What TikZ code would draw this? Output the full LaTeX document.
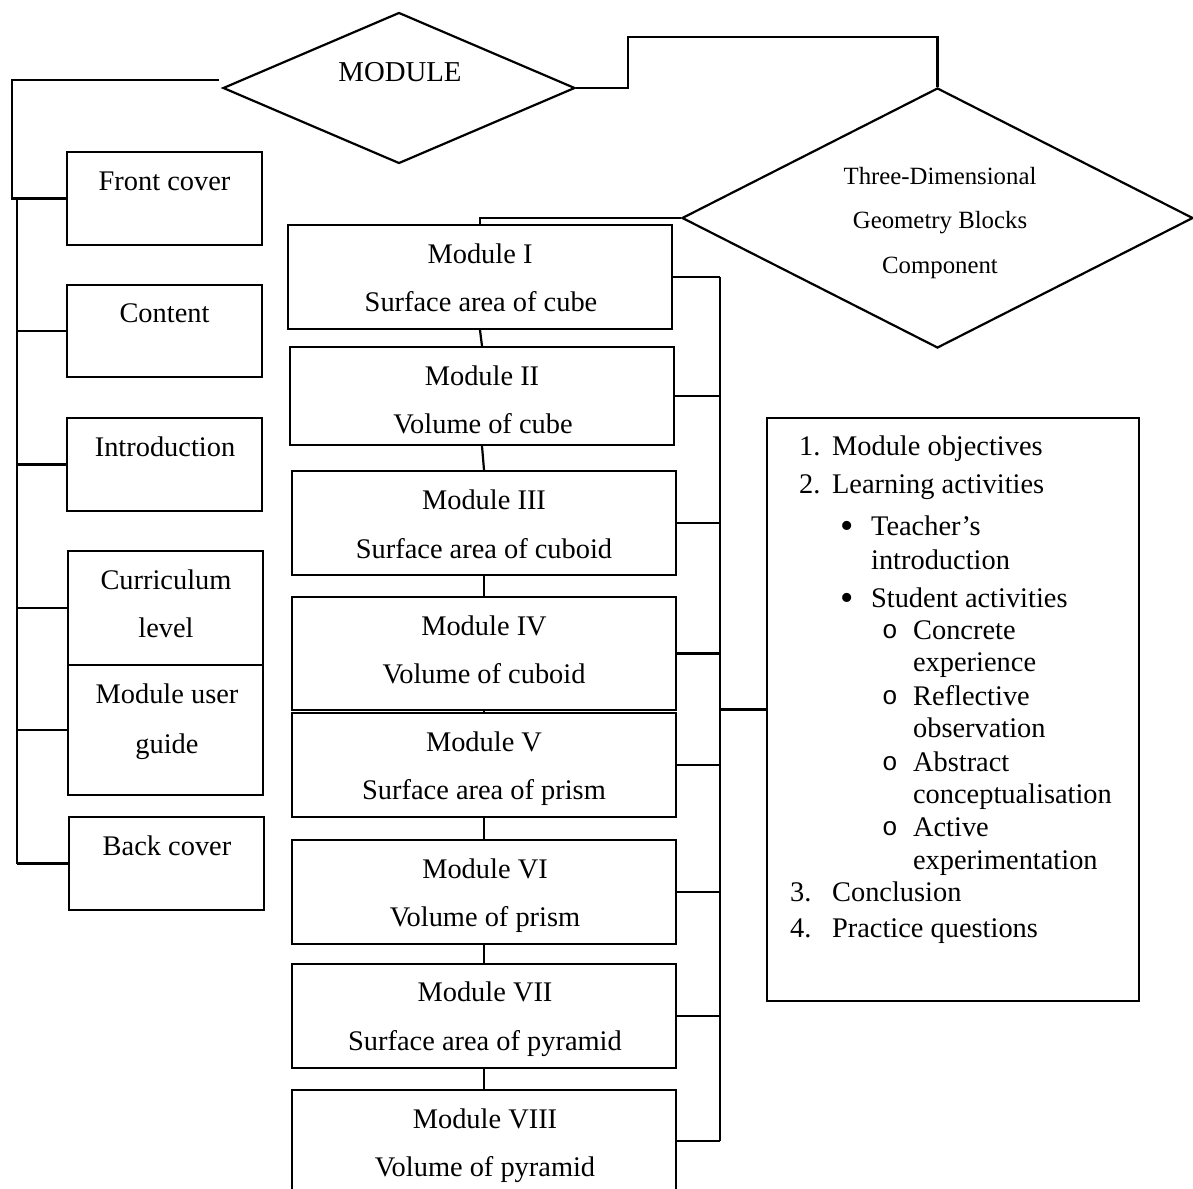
\documentclass[tikz,border=0pt]{standalone}
\usepackage{fontspec}
\setmainfont{Liberation Serif}
\newfontfamily\ringfont{Liberation Mono}
\usetikzlibrary{shapes.geometric}
\newcommand\mbx[5]{\node[box, minimum width={(#4-#2)*0.5pt}, minimum height={(#5-#3)*0.5pt}] (#1) at ({(#2+#4)/2},{(#3+#5)/2}) {};}
\begin{document}
\begin{tikzpicture}[x=0.5pt,y=-0.5pt, line width=1.1pt,
  box/.style={draw, rectangle, inner sep=0pt},
  dia/.style={draw, diamond, inner sep=0pt},
  tx/.style={inner sep=0pt, yshift=-2pt, text height=1.6ex, text depth=0.4ex, font=\fontsize{14.2}{17}\selectfont},
  stx/.style={inner sep=0pt, yshift=-2pt, text height=1.6ex, text depth=0.4ex, font=\fontsize{12.4}{15}\selectfont},
  lt/.style={tx, anchor=west},
  dot/.style={inner sep=0pt, yshift=-2.2pt, font=\fontsize{19}{20}\selectfont},
  ring/.style={inner sep=0pt, yshift=-2pt, text height=1.6ex, text depth=0.4ex, font=\ringfont\fontsize{13}{15}\selectfont},
  ]
\clip (0,0) rectangle (1193,1188);
\fill[white] (0,0) rectangle (1193,1188);

% diamonds
\node[dia, minimum width=176pt, minimum height=75.5pt] (md) at (399,88) {};
\node[dia, minimum width=255.5pt, minimum height=130pt] (td) at (937.5,218) {};
\node[tx, font=\fontsize{14.4}{17}\selectfont] (tmd) at (400,72) {MODULE};
\node[stx] (ttd1) at (940,175) {Three-Dimensional};
\node[stx] (ttd2) at (940,219) {Geometry Blocks};
\node[stx] (ttd3) at (940,264) {Component};

% left boxes
\mbx{fc}{67}{152}{262}{245}
\mbx{ct}{67}{285}{262}{377}
\mbx{intro}{67}{418}{262}{511}
\mbx{cl}{68}{551}{263}{665}
\mbx{ug}{68}{665}{263}{795}
\mbx{bc}{69}{817}{264}{910}
\node[tx] (tfc) at (164.5,181) {Front cover};
\node[tx] (tct) at (164.5,313) {Content};
\node[tx] (tin) at (165,447) {Introduction};
\node[tx] (tcl1) at (166,580) {Curriculum};
\node[tx] (tcl2) at (166,628) {level};
\node[tx] (tug1) at (167,694) {Module user};
\node[tx] (tug2) at (167,744) {guide};
\node[tx] (tbc) at (167,846) {Back cover};

% modules
\mbx{m1}{288}{225}{672}{329}
\mbx{m2}{290}{347}{674}{445}
\mbx{m3}{292}{471}{676}{575}
\mbx{m4}{292}{597}{676}{710}
\mbx{m5}{292}{713}{676}{817}
\mbx{m6}{292}{840}{676}{944}
\mbx{m7}{292}{964}{676}{1068}
\mbx{m8}{292}{1090}{676}{1192}
\node[tx] (a1) at (480,254) {Module I};
\node[tx] (b1) at (481,302) {Surface area of cube};
\node[tx] (a2) at (482,376) {Module II};
\node[tx] (b2) at (483,424) {Volume of cube};
\node[tx] (a3) at (484,500) {Module III};
\node[tx] (b3) at (484,549) {Surface area of cuboid};
\node[tx] (a4) at (484,626) {Module IV};
\node[tx] (b4) at (484,674) {Volume of cuboid};
\node[tx] (a5) at (484,742) {Module V};
\node[tx] (b5) at (484,790) {Surface area of prism};
\node[tx] (a6) at (485,869) {Module VI};
\node[tx] (b6) at (485,917) {Volume of prism};
\node[tx] (a7) at (485,992) {Module VII};
\node[tx] (b7) at (485,1041) {Surface area of pyramid};
\node[tx] (a8) at (485,1119) {Module VIII};
\node[tx] (b8) at (485,1167) {Volume of pyramid};

% list box
\mbx{lst}{767}{418}{1139}{1001}
\node[lt] (n1) at (798,446) {1.};
\node[lt] (l1) at (831,446) {Module objectives};
\node[lt] (n2) at (798,484) {2.};
\node[lt] (l2) at (831,484) {Learning activities};
\node[dot] (d1) at (847,526) {\textbullet};
\node[lt] (l3) at (870,526) {Teacher’s};
\node[lt] (l4) at (870,560) {introduction};
\node[dot] (d2) at (847,598) {\textbullet};
\node[lt] (l5) at (870,598) {Student activities};
\node[ring] (r1) at (890,629) {o};
\node[lt] (l6) at (912,630) {Concrete};
\node[lt] (l7) at (912,662) {experience};
\node[ring] (r2) at (890,695) {o};
\node[lt] (l8) at (912,696) {Reflective};
\node[lt] (l9) at (912,728) {observation};
\node[ring] (r3) at (890,761) {o};
\node[lt] (l10) at (912,762) {Abstract};
\node[lt] (l11) at (912,794) {conceptualisation};
\node[ring] (r4) at (890,826) {o};
\node[lt] (l12) at (912,827) {Active};
\node[lt] (l13) at (912,860) {experimentation};
\node[lt] (n3) at (789,892) {3.};
\node[lt] (l14) at (831,892) {Conclusion};
\node[lt] (n4) at (789,928) {4.};
\node[lt] (l15) at (831,928) {Practice questions};

% connectors
\coordinate (lc) at (12,0);
\coordinate (lb) at (17,0);
\coordinate (rb) at (720,0);
\draw ([shift={(-3,-8)}]md.west) -| (fc.west -| lc) -- (fc.west);
\draw (fc.west -| lb) -- (bc.west -| lb);
\foreach \n in {ct,intro,cl,ug,bc} \draw (\n.west -| lb) -- (\n.west);
\draw (md.east) -| (628,37) -| (td.north);
\draw (td.west) -| (m1.north);
\draw (m1.south) -- (m2.north);
\draw (m2.south) -- (m3.north);
\draw (m3.south) -- (m4.north);
\draw (m4.south) -- (m5.north);
\draw (m5.south) -- (m6.north);
\draw (m6.south) -- (m7.north);
\draw (m7.south) -- (m8.north);
\draw (m1.east -| rb) -- (m8.east -| rb);
\foreach \n in {m1,m2,m3,m4,m5,m6,m7,m8} \draw (\n.east) -- (\n.east -| rb);
\draw (rb |- lst.west) -- (lst.west);
\end{tikzpicture}
\end{document}
